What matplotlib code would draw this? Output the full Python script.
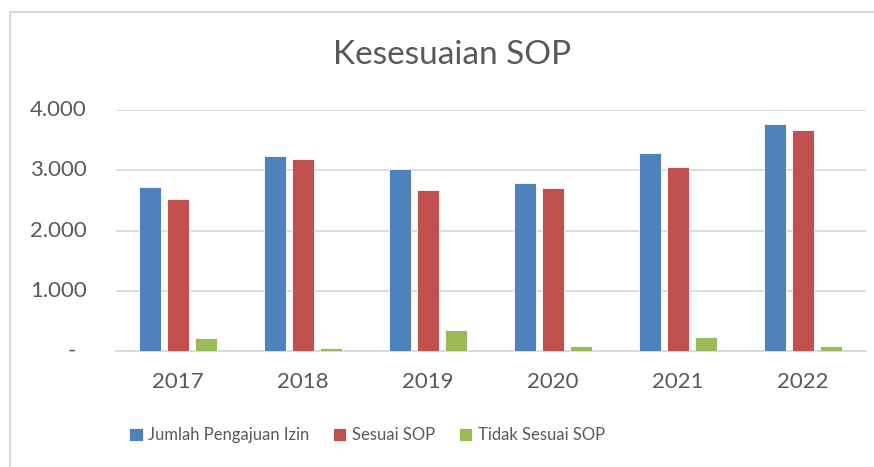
import numpy as np
import matplotlib.pyplot as plt
from matplotlib.patches import Rectangle

years = ["2017", "2018", "2019", "2020", "2021", "2022"]
jumlah_pengajuan = [2724, 3235, 3018, 2790, 3290, 3767]
sesuai_sop = [2519, 3190, 2674, 2712, 3057, 3672]
tidak_sesuai_sop = [206, 40, 344, 73, 223, 78]
y_ticks = [0, 1000, 2000, 3000, 4000]
y_tick_labels = ["-", "1.000", "2.000", "3.000", "4.000"]

series = [
    ("Jumlah Pengajuan Izin", jumlah_pengajuan, "#4F81BD"),
    ("Sesuai SOP", sesuai_sop, "#C0504D"),
    ("Tidak Sesuai SOP", tidak_sesuai_sop, "#9BBB59"),
]

plt.rcParams['font.family'] = ['Lato', 'DejaVu Sans']
text_color = "#595959"
grid_color = "#D9D9D9"

fig = plt.figure(figsize=(8.74, 4.67), dpi=100)
ax = fig.add_axes([0.1324, 0.249, 0.858, 0.5148])

x = np.arange(len(years))
bar_w = 0.176
pitch = 0.222
for i, (name, vals, color) in enumerate(series):
    ax.bar(x + (i - 1) * pitch, vals, width=bar_w, color=color, label=name,
           edgecolor="white", linewidth=0.6, zorder=3)

ax.set_xlim(-0.5, len(years) - 0.5)
ax.set_ylim(0, 4000)
ax.set_yticks(y_ticks)
ax.set_yticklabels([])
ax.set_xticks(x)
ax.set_xticklabels(years)

# y labels drawn as text so they sit well left of the plot area
ytrans = ax.get_yaxis_transform()
for v, lab in zip(y_ticks, y_tick_labels):
    xpos = -0.0383 if lab != "-" else -0.0530
    ax.text(xpos, v, lab, transform=ytrans, ha="right", va="center",
            fontsize=16, color=text_color)

ax.grid(axis="y", color=grid_color, linewidth=1.3, zorder=0)
for s in ["top", "right", "left"]:
    ax.spines[s].set_visible(False)
ax.spines["bottom"].set_color(grid_color)
ax.spines["bottom"].set_linewidth(1.3)
ax.tick_params(axis="both", length=0, labelsize=16, colors=text_color)
ax.tick_params(axis="x", pad=15)

fig.text(0.517, 0.882, "Kesesuaian SOP", ha="center", va="center",
         fontsize=24, color=text_color)

fig.legend(loc="center", bbox_to_anchor=(0.42, 0.068), ncol=3, frameon=False,
           fontsize=12, handlelength=0.8, handleheight=0.8,
           handletextpad=0.35, columnspacing=1.4, labelcolor=text_color)

# light chart border
fig.add_artist(Rectangle((10 / 874, -0.1), 1.1, (467 - 12) / 467 + 0.1,
                         transform=fig.transFigure, fill=False,
                         edgecolor=grid_color, linewidth=1.5))

fig.savefig("out.png", dpi=100)
